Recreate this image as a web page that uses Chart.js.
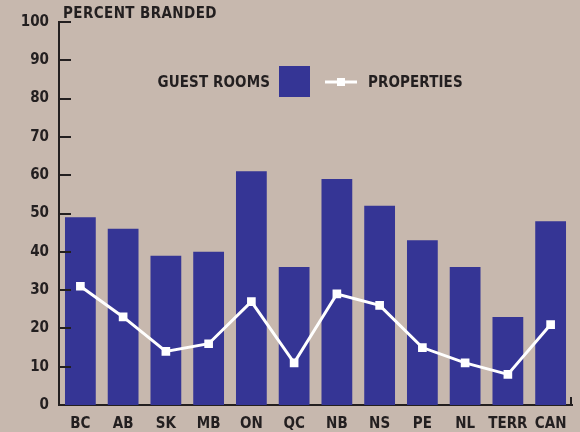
<!DOCTYPE html>
<html>
<head>
<meta charset="utf-8">
<script src="https://cdn.jsdelivr.net/npm/chart.js@4"></script>
<style>
  html, body { margin: 0; padding: 0; background: #c7b8ae; }
  #wrap { width: 580px; height: 432px; }
</style>
</head>
<body>
<div id="wrap"><canvas id="brandChart" width="580" height="432"></canvas></div>
<script>
// 카테고리 / 값
const provinces = ['BC', 'AB', 'SK', 'MB', 'ON', 'QC', 'NB', 'NS', 'PE', 'NL', 'TERR', 'CAN'];
const guestRooms = [49, 46, 39, 40, 61, 36, 59, 52, 43, 36, 23, 48];
const properties = [31, 23, 14, 16, 27, 11, 29, 26, 15, 11, 8, 21];
const yTicks = [0, 10, 20, 30, 40, 50, 60, 70, 80, 90, 100];

const ink = '#231f20';
const barBlue = '#353595';
const fontFam = '"DejaVu Sans Condensed", "DejaVu Sans", sans-serif';

// 제목, 범례, 안쪽 눈금
const decorPlugin = {
    id: 'decor',
    afterDraw(chart) {
        const ctx = chart.ctx;
        const y = chart.scales.y;
        const area = chart.chartArea;
        ctx.save();
        ctx.strokeStyle = ink;
        ctx.lineWidth = 2;
        // y 눈금 (안쪽으로)
        yTicks.forEach(v => {
            if (v === 0) return;
            const py = Math.round(y.getPixelForValue(v));
            ctx.beginPath();
            ctx.moveTo(area.left, py);
            ctx.lineTo(area.left + 12, py);
            ctx.stroke();
        });
        // x축 끝 눈금
        ctx.beginPath();
        ctx.moveTo(area.right - 1, area.bottom);
        ctx.lineTo(area.right - 1, area.bottom - 8);
        ctx.stroke();

        ctx.fillStyle = ink;
        ctx.font = 'bold 15px ' + fontFam;
        ctx.letterSpacing = '0.4px';
        ctx.textBaseline = 'middle';
        ctx.textAlign = 'left';
        ctx.fillText('PERCENT BRANDED', 63, 14);

        // 범례
        ctx.letterSpacing = '0.1px';
        ctx.textAlign = 'right';
        ctx.fillText('GUEST ROOMS', 270, 83);
        ctx.fillStyle = barBlue;
        ctx.fillRect(279, 66, 31, 31);
        ctx.strokeStyle = '#ffffff';
        ctx.lineWidth = 3;
        ctx.beginPath();
        ctx.moveTo(325, 82);
        ctx.lineTo(357, 82);
        ctx.stroke();
        ctx.fillStyle = '#ffffff';
        ctx.fillRect(337, 78, 8, 8);
        ctx.fillStyle = ink;
        ctx.textAlign = 'left';
        ctx.fillText('PROPERTIES', 368, 83);
        ctx.restore();
    }
};

const ChartB = document.getElementById('brandChart');
const brandChart = new Chart(ChartB, {
    type: 'bar',
    data: {
        labels: provinces,
        datasets: [{
            label: 'PROPERTIES',
            type: 'line',
            data: properties,
            borderColor: '#ffffff',
            backgroundColor: '#ffffff',
            borderWidth: 3,
            pointStyle: 'rect',
            pointRadius: 4,
            pointHoverRadius: 4,
            tension: 0,
            order: 0
        },
        {
            label: 'GUEST ROOMS',
            data: guestRooms,
            backgroundColor: barBlue,
            borderWidth: 0,
            categoryPercentage: 1,
            barPercentage: 0.72,
            order: 1
        }]
    },
    options: {
        responsive: false,
        animation: false,
        events: [],
        layout: { padding: { top: 22, right: 8, left: 0, bottom: 0 } },
        scales: {
            x: {
                grid: { display: false, drawTicks: false },
                border: { display: true, color: ink, width: 2 },
                ticks: {
                    color: ink,
                    padding: 10,
                    maxRotation: 0,
                    minRotation: 0,
                    autoSkip: false,
                    font: { family: fontFam, size: 15, weight: 'bold' }
                },
                afterFit(scale) { scale.height = 27; }
            },
            y: {
                min: 0,
                max: 100,
                afterBuildTicks(scale) { scale.ticks = yTicks.map(v => ({ value: v })); },
                grid: { display: false, drawTicks: false },
                border: { display: true, color: ink, width: 2 },
                ticks: {
                    color: ink,
                    padding: 10,
                    font: { family: fontFam, size: 15, weight: 'bold' }
                },
                afterFit(scale) { scale.width = 59; }
            }
        },
        plugins: {
            legend: { display: false },
            title: { display: false },
            tooltip: { enabled: false }
        }
    },
    plugins: [decorPlugin]
});
</script>
</body>
</html>
